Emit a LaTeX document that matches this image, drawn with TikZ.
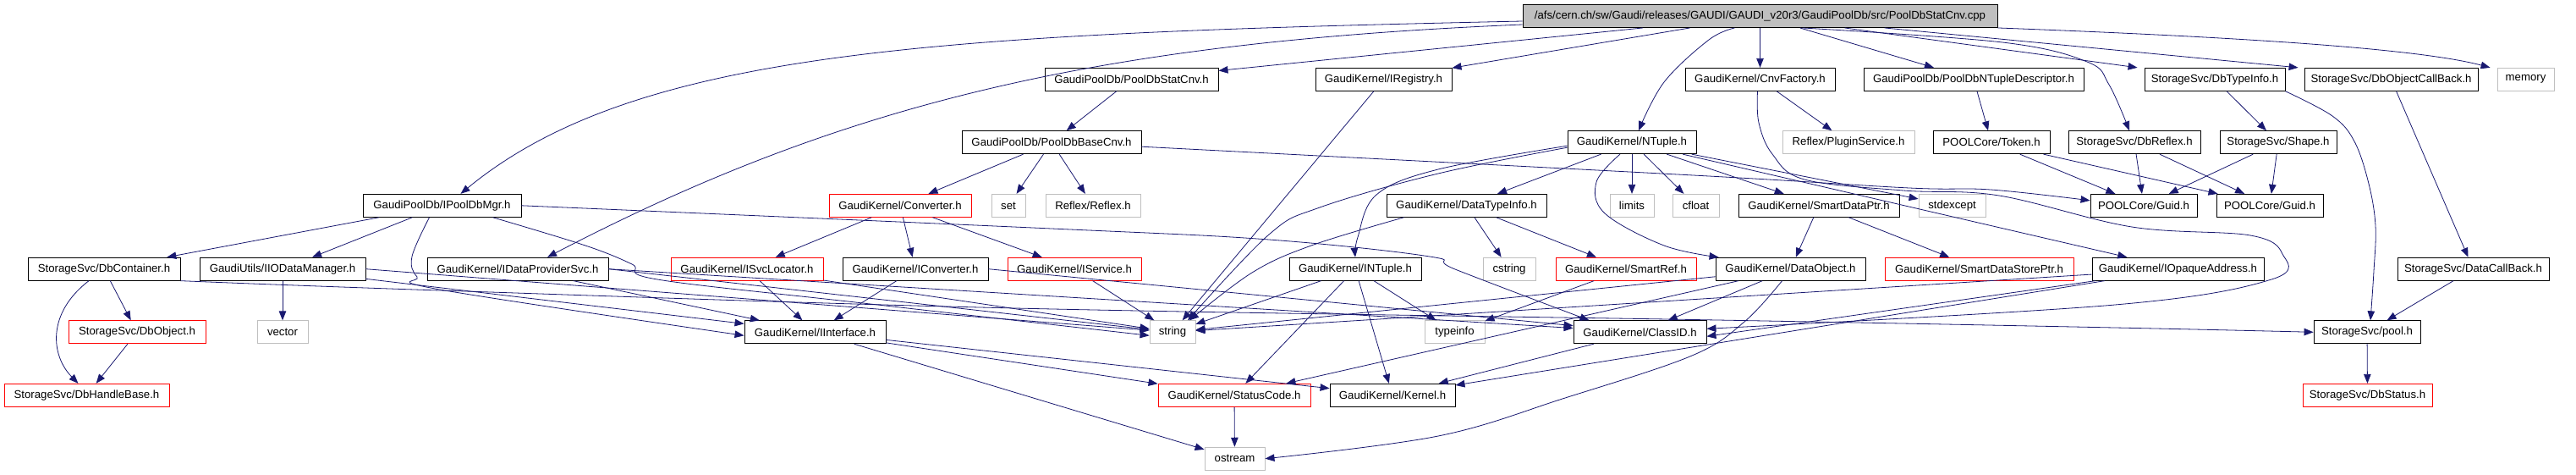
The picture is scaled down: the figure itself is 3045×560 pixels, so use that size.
\documentclass[tikz,border=0pt]{standalone}
\usepackage{fontspec}
\setmainfont{Liberation Sans}
\usetikzlibrary{arrows.meta}
\definecolor{edgecol}{HTML}{191970}
\definecolor{grayb}{HTML}{BFBFBF}
\tikzset{
  box/.style={draw=black, line width=0.9pt, rectangle, minimum height=27pt, inner sep=0pt, font=\fontsize{13.2}{15}\selectfont},
  redbox/.style={box, draw=red},
  sysbox/.style={box, draw=grayb},
  rootbox/.style={box, fill=grayb},
  edge/.style={draw=edgecol, line width=0.8pt, -{Triangle[length=11pt,width=8.5pt]}},
  sm/.style={smooth, tension=0.6}
}
\begin{document}
\begin{tikzpicture}[x=1pt,y=-1pt]
\useasboundingbox (0,0) rectangle (3045,560);
% row 0
\node[rootbox, minimum width=561pt] (root) at (2080.5,19) {/afs/cern.ch/sw/Gaudi/releases/GAUDI/GAUDI\_v20r3/GaudiPoolDb/src/PoolDbStatCnv.cpp};
% row 1
\node[box, minimum width=205pt] (statcnv) at (1337.5,93.8) {GaudiPoolDb/PoolDbStatCnv.h};
\node[box, minimum width=161pt] (iregistry) at (1635.5,93.8) {GaudiKernel/IRegistry.h};
\node[box, minimum width=177pt] (cnvfactory) at (2080.5,93.8) {GaudiKernel/CnvFactory.h};
\node[box, minimum width=260pt] (ntupledesc) at (2333,93.8) {GaudiPoolDb/PoolDbNTupleDescriptor.h};
\node[box, minimum width=166pt] (dbtypeinfo) at (2618,93.8) {StorageSvc/DbTypeInfo.h};
\node[box, minimum width=205pt] (dbobjcb) at (2826.5,93.8) {StorageSvc/DbObjectCallBack.h};
\node[sysbox, minimum width=67pt] (memory) at (2985.5,93.8) {memory};
% row 2
\node[box, minimum width=212pt] (basecnv) at (1243,168.2) {GaudiPoolDb/PoolDbBaseCnv.h};
\node[box, minimum width=152pt] (ntuple) at (1929,168.2) {GaudiKernel/NTuple.h};
\node[sysbox, minimum width=156pt] (pluginsvc) at (2185,168.2) {Reflex/PluginService.h};
\node[box, minimum width=138pt] (token) at (2354,168.2) {POOLCore/Token.h};
\node[box, minimum width=156pt] (dbreflex) at (2523,168.2) {StorageSvc/DbReflex.h};
\node[box, minimum width=138pt] (shape) at (2693,168.2) {StorageSvc/Shape.h};
% row 3
\node[box, minimum width=187pt] (ipooldbmgr) at (522.5,242.8) {GaudiPoolDb/IPoolDbMgr.h};
\node[redbox, minimum width=168pt] (converter) at (1064,242.8) {GaudiKernel/Converter.h};
\node[sysbox, minimum width=40pt] (set) at (1192,242.8) {set};
\node[sysbox, minimum width=112pt] (reflex) at (1292,242.8) {Reflex/Reflex.h};
\node[box, minimum width=189pt] (datatypeinfo) at (1733.5,242.8) {GaudiKernel/DataTypeInfo.h};
\node[sysbox, minimum width=52pt] (limits) at (1929,242.8) {limits};
\node[sysbox, minimum width=55pt] (cfloat) at (2004.5,242.8) {cfloat};
\node[box, minimum width=190pt] (smartdataptr) at (2150,242.8) {GaudiKernel/SmartDataPtr.h};
\node[sysbox, minimum width=79pt] (stdexcept) at (2307.5,242.8) {stdexcept};
\node[box, minimum width=126pt] (guidA) at (2534,242.8) {POOLCore/Guid.h};
\node[box, minimum width=126pt] (guidB) at (2683,242.8) {POOLCore/Guid.h};
% row 4
\node[box, minimum width=180pt] (dbcontainer) at (123,317.7) {StorageSvc/DbContainer.h};
\node[box, minimum width=196pt] (iiodatamgr) at (334,317.7) {GaudiUtils/IIODataManager.h};
\node[box, minimum width=214pt] (idataprovider) at (612,317.7) {GaudiKernel/IDataProviderSvc.h};
\node[redbox, minimum width=180pt] (isvclocator) at (883,317.7) {GaudiKernel/ISvcLocator.h};
\node[box, minimum width=172pt] (iconverter) at (1082,317.7) {GaudiKernel/IConverter.h};
\node[redbox, minimum width=158pt] (iservice) at (1270,317.7) {GaudiKernel/IService.h};
\node[box, minimum width=156pt] (intuple) at (1602,317.7) {GaudiKernel/INTuple.h};
\node[sysbox, minimum width=62pt] (cstring) at (1784,317.7) {cstring};
\node[redbox, minimum width=166pt] (smartref) at (1922,317.7) {GaudiKernel/SmartRef.h};
\node[box, minimum width=177pt] (dataobject) at (2116.5,317.7) {GaudiKernel/DataObject.h};
\node[redbox, minimum width=223pt] (smartdatastoreptr) at (2339.5,317.7) {GaudiKernel/SmartDataStorePtr.h};
\node[box, minimum width=203pt] (iopaque) at (2574.5,317.7) {GaudiKernel/IOpaqueAddress.h};
\node[box, minimum width=179pt] (datacallback) at (2923.5,317.7) {StorageSvc/DataCallBack.h};
% row 5
\node[redbox, minimum width=162pt] (dbobject) at (162,392.3) {StorageSvc/DbObject.h};
\node[sysbox, minimum width=60pt] (vector) at (334,392.3) {vector};
\node[box, minimum width=167pt] (iinterface) at (963.5,392.3) {GaudiKernel/IInterface.h};
\node[sysbox, minimum width=54pt] (string) at (1386,392.3) {string};
\node[sysbox, minimum width=71pt] (typeinfo) at (1719.5,392.3) {typeinfo};
\node[box, minimum width=157pt] (classid) at (1938.5,392.3) {GaudiKernel/ClassID.h};
\node[box, minimum width=126pt] (pool) at (2798,392.3) {StorageSvc/pool.h};
% row 6
\node[redbox, minimum width=195pt] (dbhandlebase) at (102.5,466.8) {StorageSvc/DbHandleBase.h};
\node[redbox, minimum width=180pt] (statuscode) at (1459,466.8) {GaudiKernel/StatusCode.h};
\node[box, minimum width=148pt] (kernel) at (1646,466.8) {GaudiKernel/Kernel.h};
\node[redbox, minimum width=153pt] (dbstatus) at (2798.5,466.8) {StorageSvc/DbStatus.h};
% row 7
\node[sysbox, minimum width=71pt] (ostream) at (1459.5,541.7) {ostream};

% ---- edges from root
\draw[edge] ([yshift=-6pt]root.west) .. controls (1100,40) and (750,60) .. ([xshift=22pt]ipooldbmgr.north);
\draw[edge] ([yshift=-10pt]root.west) .. controls (1300,50) and (1000,120) .. ([xshift=35pt]idataprovider.north);
\draw[edge] (root) -- (statcnv);
\draw[edge] (root) -- (iregistry);
\draw[edge] plot[sm] coordinates {([xshift=-30pt]root.south) (2020,47) (1967,97) ([xshift=8pt]ntuple.north)};
\draw[edge] (root) -- (cnvfactory);
\draw[edge] (root) -- (ntupledesc);
\draw[edge] plot[sm] coordinates {([xshift=50pt]root.south) (2367,50) (2467,73) (2493,100) ([xshift=-6pt]dbreflex.north)};
\draw[edge] ([xshift=100pt]root.south) -- ([xshift=-8pt]dbtypeinfo.north west);
\draw[edge] ([xshift=147pt]root.south) -- ([xshift=-7pt]dbobjcb.north west);
\draw[edge] (root.south east) .. controls (2600,42) and (2850,55) .. ([xshift=-8pt]memory.north west);

% ---- row 1 sources
\draw[edge] (statcnv) -- (basecnv);
\draw[edge] (iregistry) -- (string);
\draw[edge] (cnvfactory) -- (pluginsvc);
\draw[edge] plot[sm] coordinates {([xshift=-3pt]cnvfactory.south) (2079,145) (2095,182) (2133,212) (2250,225) (2363,231) (2520,268) (2660,278) (2698,300) (2685,330) (2500,360) ([yshift=4pt]classid.east)};
\draw[edge] (ntupledesc) -- (token);
\draw[edge] (dbtypeinfo) -- (shape);
\draw[edge] plot[sm] coordinates {(dbtypeinfo.south east) (2757,137) (2783,167) (2800,217) (2808,267) (2806,320) ([xshift=4pt]pool.north)};
\draw[edge] (dbobjcb) -- (datacallback);

% ---- row 2 sources
\draw[edge] (basecnv) -- (converter);
\draw[edge] (basecnv) -- (set);
\draw[edge] (basecnv) -- (reflex);
\draw[edge] plot[sm] coordinates {([yshift=-5pt]basecnv.east) (1520,182) (2020,208) (2257,222) (2353,224) ([yshift=6pt]guidA.west)};
\draw[edge] (ntuple) -- (datatypeinfo);
\draw[edge] (ntuple) -- (limits);
\draw[edge] (ntuple) -- (cfloat);
\draw[edge] (ntuple) -- (smartdataptr);
\draw[edge] (ntuple) -- (stdexcept);
\draw[edge] (ntuple) -- (iopaque);
\draw[edge] plot[sm] coordinates {([yshift=-4pt]ntuple.west) (1700,200) (1627,230) (1605,280) (intuple.north)};
\draw[edge] plot[sm] coordinates {([yshift=-6pt]ntuple.west) (1700,205) (1560,245) (1500,277) ([xshift=18pt]string.north)};
\draw[edge] plot[sm] coordinates {([xshift=-14pt]ntuple.south) (1887,215) (1897,252) (1967,290) ([xshift=4pt]dataobject.north west)};
\draw[edge] (token) -- (guidA);
\draw[edge] (token) -- (guidB);
\draw[edge] (dbreflex) -- (guidA);
\draw[edge] (dbreflex) -- (guidB);
\draw[edge] (shape) -- (guidA);
\draw[edge] (shape) -- (guidB);

% ---- row 3 sources
\draw[edge] (ipooldbmgr) -- (dbcontainer);
\draw[edge] (ipooldbmgr) -- (iiodatamgr);
\draw[edge] plot[sm] coordinates {([xshift=-15pt]ipooldbmgr.south) (487,303) (493,327) (520,342) ([yshift=-4pt]iinterface.west)};
\draw[edge] plot[sm] coordinates {([xshift=60pt]ipooldbmgr.south) (692,290) (747,312) (777,330) (1020,358) ([yshift=-4pt]string.west)};
\draw[edge] plot[sm] coordinates {(ipooldbmgr.east) (1243,270) (1500,283) (1690,303) (1720,318) ([xshift=-60pt]classid.north)};
\draw[edge] (converter) -- (isvclocator);
\draw[edge] (converter) -- (iconverter);
\draw[edge] (converter) -- (iservice);
\draw[edge] plot[sm] coordinates {([xshift=-74pt]datatypeinfo.south) (1550,290) (1480,322) ([xshift=20pt]string.north)};
\draw[edge] (datatypeinfo) -- (cstring);
\draw[edge] (datatypeinfo) -- (smartref);
\draw[edge] (smartdataptr) -- (dataobject);
\draw[edge] (smartdataptr) -- (smartdatastoreptr);

% ---- row 4 sources
\draw[edge] (dbcontainer) -- (dbobject);
\draw[edge] ([xshift=-18pt]dbcontainer.south) .. controls (55,370) and (60,420) .. ([xshift=-10pt]dbhandlebase.north);
\draw[edge] plot[sm] coordinates {(dbcontainer.south east) (520,343) (1200,364) (2030,378) (2500,387) (pool.west)};
\draw[edge] (iiodatamgr) -- (vector);
\draw[edge] (iiodatamgr) -- (iinterface);
\draw[edge] (iiodatamgr.east) -- (string);
\draw[edge] (idataprovider) -- (iinterface);
\draw[edge] (idataprovider.east) -- (string);
\draw[edge] (idataprovider.east) -- (classid);
\draw[edge] (isvclocator) -- (iinterface);
\draw[edge] (isvclocator) -- (string);
\draw[edge] (iconverter) -- (iinterface);
\draw[edge] (iconverter.east) -- (classid);
\draw[edge] (iservice) -- (string);
\draw[edge] (intuple) -- (string);
\draw[edge] (intuple) -- (statuscode);
\draw[edge] (intuple) -- (kernel);
\draw[edge] (intuple) -- (typeinfo);
\draw[edge] (smartref) -- (typeinfo);
\draw[edge] (dataobject) -- (string);
\draw[edge] (dataobject) -- (classid);
\draw[edge] (dataobject) -- (statuscode);
\draw[edge] plot[sm] coordinates {([xshift=-10pt]dataobject.south) (2062,380) (2000,420) (1850,470) (1700,515) (ostream.east)};
\draw[edge] (iopaque) -- (string);
\draw[edge] (iopaque) -- (kernel);
\draw[edge] (iopaque) -- ([yshift=-5pt]classid.east);
\draw[edge] (datacallback) -- (pool);

% ---- row 5 sources
\draw[edge] (dbobject) -- (dbhandlebase);
\draw[edge] (iinterface) -- (statuscode);
\draw[edge] (iinterface) -- (kernel);
\draw[edge] (iinterface) -- (ostream);
\draw[edge] (classid) -- (kernel);
\draw[edge] (pool) -- (dbstatus);

% ---- row 6 sources
\draw[edge] (statuscode) -- (ostream);
\end{tikzpicture}
\end{document}
